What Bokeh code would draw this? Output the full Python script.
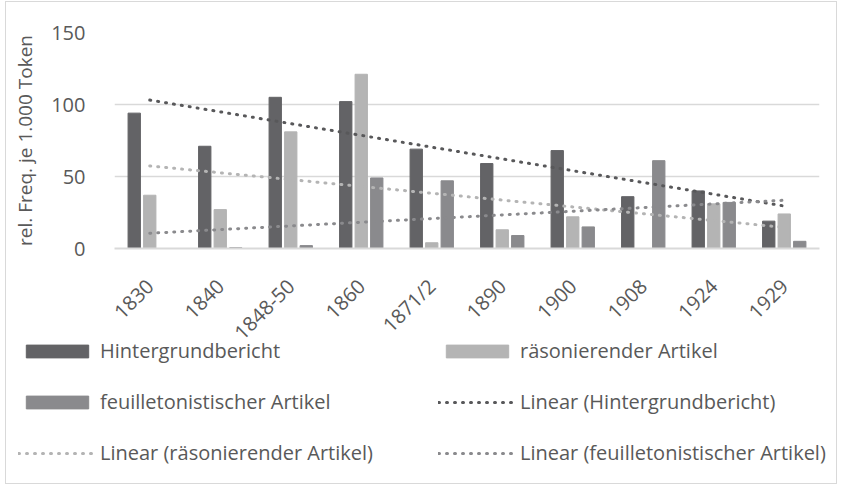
import math
import numpy as np
from bokeh.plotting import figure
from bokeh.models import FactorRange, FixedTicker, Legend, LegendItem, ColumnDataSource
from bokeh.transform import dodge
from bokeh.embed import file_html
from bokeh.resources import INLINE

categories = ["1830", "1840", "1848-50", "1860", "1871/2", "1890", "1900", "1908", "1924", "1929"]
hintergrund = [94, 71, 105, 102, 69, 59, 68, 36, 40, 19]
raesonierend = [37, 27, 81, 121, 4, 13, 22, 0, 31, 24]
feuilleton = [0, 0.5, 2, 49, 47, 9, 15, 61, 32, 5]
y_ticks = [0, 50, 100, 150]
series_labels = ["Hintergrundbericht", "räsonierender Artikel", "feuilletonistischer Artikel"]

C_H = "#636366"
C_R = "#b4b4b4"
C_F = "#8a8a8d"
C_TH = "#58585a"
C_TR = "#b4b4b4"
C_TF = "#8a8a8d"
TXT = "#595959"
GRID = "#d9d9d9"
FONT = "Open Sans"
W = 832
BORDER = "1px solid #d9d9d9"

src = ColumnDataSource(dict(cat=categories, h=hintergrund, r=raesonierend, f=feuilleton))

p = figure(x_range=FactorRange(*categories), y_range=(0, 150), width=W, height=355,
           output_backend="svg", toolbar_location=None,
           min_border_left=108, min_border_right=19, min_border_top=30, min_border_bottom=109)
p.styles = {"border-left": BORDER, "border-right": BORDER, "border-top": BORDER,
            "margin-left": "5px", "margin-top": "1px"}
p.outline_line_color = None
p.xgrid.grid_line_color = None
p.ygrid.grid_line_color = GRID
p.ygrid.grid_line_width = 1.5

bw = 0.175
p.vbar(x=dodge("cat", -0.22, range=p.x_range), top="h", width=bw, source=src, color=C_H)
p.vbar(x=dodge("cat", 0.0, range=p.x_range), top="r", width=bw, source=src, color=C_R)
p.vbar(x=dodge("cat", 0.22, range=p.x_range), top="f", width=bw, source=src, color=C_F)

xs = np.arange(1, len(categories) + 1)
def trend(vals):
    k, d = np.polyfit(xs, np.array(vals, dtype=float), 1)
    return list(k * xs + d)

dot = dict(line_width=3, line_dash="1 7", line_cap="round")
p.line(x=categories, y=trend(hintergrund), line_color=C_TH, **dot)
p.line(x=categories, y=trend(raesonierend), line_color=C_TR, **dot)
p.line(x=categories, y=trend(feuilleton), line_color=C_TF, **dot)

# axes
p.xaxis.axis_line_color = GRID
p.xaxis.axis_line_width = 2
p.xaxis.major_tick_line_color = None
p.xaxis.minor_tick_line_color = None
p.xaxis.major_label_orientation = math.pi / 4
p.xaxis.major_label_text_font = FONT
p.xaxis.major_label_text_font_size = "20px"
p.xaxis.major_label_text_color = TXT
p.xaxis.major_label_standoff = 28

p.yaxis.ticker = FixedTicker(ticks=y_ticks)
p.yaxis.axis_line_color = None
p.yaxis.major_tick_line_color = None
p.yaxis.minor_tick_line_color = None
p.yaxis.major_label_text_font = FONT
p.yaxis.major_label_text_font_size = "20px"
p.yaxis.major_label_text_color = TXT
p.yaxis.major_label_standoff = 23
p.yaxis.axis_label = "rel. Freq. je 1.000 Token"
p.yaxis.axis_label_text_font = FONT
p.yaxis.axis_label_text_font_size = "19px"
p.yaxis.axis_label_text_font_style = "normal"
p.yaxis.axis_label_text_color = TXT
p.yaxis.axis_label_standoff = 10

# legend panel: separate transparent figure overlapping the lower part of the chart
q = figure(width=W, height=165, output_backend="svg", toolbar_location=None,
           x_axis_location=None, y_axis_location=None,
           min_border_left=0, min_border_right=0, min_border_top=0, min_border_bottom=0)
q.styles = {"border-left": BORDER, "border-right": BORDER, "border-bottom": BORDER,
            "margin-left": "5px", "margin-top": "-37px"}
q.outline_line_color = None
q.background_fill_color = None
q.border_fill_color = None
q.grid.grid_line_color = None
nan = [np.nan]
gh = q.vbar(x=nan, top=nan, width=1, color=C_H)
gr = q.vbar(x=nan, top=nan, width=1, color=C_R)
gf = q.vbar(x=nan, top=nan, width=1, color=C_F)
gth = q.line(x=nan, y=nan, line_color=C_TH, **dot)
gtr = q.line(x=nan, y=nan, line_color=C_TR, **dot)
gtf = q.line(x=nan, y=nan, line_color=C_TF, **dot)

def make_legend(items, loc):
    return Legend(items=items, location=loc, border_line_color=None, background_fill_alpha=0,
                  padding=0, margin=0, spacing=24, glyph_width=78, glyph_height=16,
                  label_standoff=4, label_text_font=FONT, label_text_font_size="20px",
                  label_text_color=TXT, label_height=25)

leg1 = make_legend([LegendItem(label=series_labels[0], renderers=[gh]),
                    LegendItem(label=series_labels[2], renderers=[gf]),
                    LegendItem(label="Linear (" + series_labels[1] + ")", renderers=[gtr])], (12, 18))
leg2 = make_legend([LegendItem(label=series_labels[1], renderers=[gr]),
                    LegendItem(label="Linear (" + series_labels[0] + ")", renderers=[gth]),
                    LegendItem(label="Linear (" + series_labels[2] + ")", renderers=[gtf])], (432, 18))
q.add_layout(leg1)
q.add_layout(leg2)

open("out.html", "w").write(file_html([p, q], INLINE))
